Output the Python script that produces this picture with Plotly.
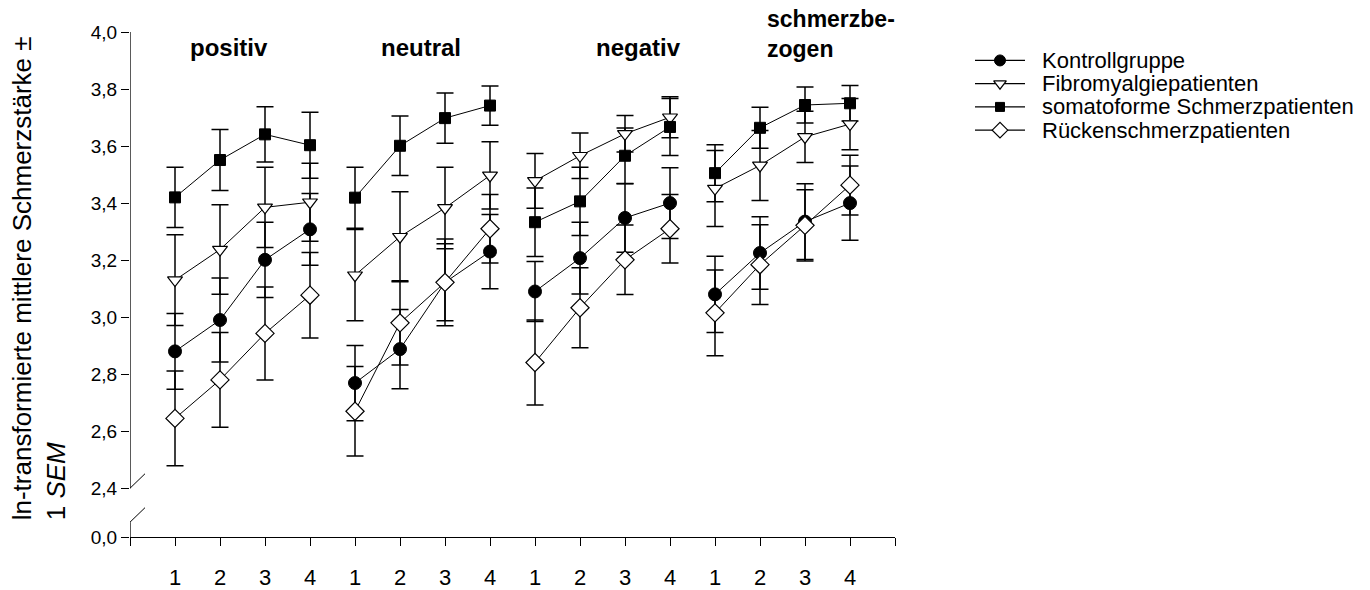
import plotly.graph_objects as go

# Conditions and measurement points (x positions 1..16, four per condition)
conditions = ["positiv", "neutral", "negativ", "schmerzbe-<br>zogen"]
points_per_condition = ["1", "2", "3", "4"]

# ln-transformed mean pain intensity per group, 16 values each (4 conditions x 4 points)
kontroll = [2.880, 2.990, 3.201, 3.308, 2.769, 2.888, 3.122, 3.230,
            3.090, 3.207, 3.348, 3.400, 3.080, 3.225, 3.335, 3.400]
kontroll_sem = [0.133, 0.147, 0.132, 0.126, 0.132, 0.139, 0.135, 0.130,
                0.105, 0.126, 0.120, 0.124, 0.134, 0.127, 0.133, 0.130]

fibro = [3.130, 3.237, 3.385, 3.403, 3.147, 3.282, 3.383, 3.497,
         3.478, 3.566, 3.643, 3.701, 3.451, 3.532, 3.632, 3.677]
fibro_sem = [0.159, 0.157, 0.141, 0.137, 0.160, 0.158, 0.143, 0.118,
             0.096, 0.080, 0.064, 0.072, 0.133, 0.123, 0.090, 0.090]

somato = [3.420, 3.551, 3.641, 3.603, 3.419, 3.601, 3.698, 3.742,
          3.333, 3.406, 3.566, 3.667, 3.505, 3.664, 3.744, 3.750]
somato_sem = [0.106, 0.107, 0.097, 0.116, 0.107, 0.104, 0.088, 0.069,
              0.120, 0.120, 0.097, 0.100, 0.100, 0.072, 0.063, 0.062]

ruecken = [2.645, 2.780, 2.943, 3.077, 2.670, 2.980, 3.122, 3.310,
           2.841, 3.033, 3.201, 3.310, 3.015, 3.184, 3.322, 3.463]
ruecken_sem = [0.166, 0.166, 0.163, 0.150, 0.157, 0.148, 0.152, 0.120,
               0.149, 0.140, 0.122, 0.120, 0.150, 0.140, 0.125, 0.105]

group_names = ["Kontrollgruppe", "Fibromyalgiepatienten",
               "somatoforme Schmerzpatienten", "Rückenschmerzpatienten"]

# y axis is broken between 0,0 and 2,4; the 0,0 tick sits at AXIS_FLOOR
AXIS_FLOOR = 2.229
y_tickvals = [AXIS_FLOOR, 2.4, 2.6, 2.8, 3.0, 3.2, 3.4, 3.6, 3.8, 4.0]
y_ticktext = ["0,0", "2,4", "2,6", "2,8", "3,0", "3,2", "3,4", "3,6", "3,8", "4,0"]

FONT = "Arial, Liberation Sans, sans-serif"

W, H = 1370, 590
M_L, M_R, M_T, M_B = 130, 0, 32, 43
PLOT_W = W - M_L - M_R
PLOT_H = H - M_T - M_B


def paper_x(px):
    return (px - M_L) / PLOT_W


def paper_y(py):
    return 1 - (py - M_T) / PLOT_H


styles = [
    dict(symbol="circle", size=13, color="black", line=dict(color="black", width=1)),
    dict(symbol="triangle-down", size=13, color="white", line=dict(color="black", width=1.2)),
    dict(symbol="square", size=11, color="black", line=dict(color="black", width=1)),
    dict(symbol="diamond", size=14, color="white", line=dict(color="black", width=1.2)),
]
values = [kontroll, fibro, somato, ruecken]
errors = [kontroll_sem, fibro_sem, somato_sem, ruecken_sem]

fig = go.Figure()

n_pts = len(points_per_condition)
x_all = list(range(1, len(conditions) * n_pts + 1))

# error bars first so that every marker sits above them
for vals, sem in zip(values, errors):
    fig.add_trace(go.Scatter(
        x=x_all, y=vals, mode="markers",
        marker=dict(size=1, color="rgba(0,0,0,0)"),
        error_y=dict(type="data", array=sem, visible=True, color="black",
                     thickness=1.5, width=8.5),
        showlegend=False, hoverinfo="skip",
    ))

# connected means, one line segment per condition
for name, vals, mk in zip(group_names, values, styles):
    for c in range(len(conditions)):
        xs = x_all[c * n_pts:(c + 1) * n_pts]
        ys = vals[c * n_pts:(c + 1) * n_pts]
        fig.add_trace(go.Scatter(
            x=xs, y=ys, mode="lines+markers", name=name,
            legendgroup=name, showlegend=False,
            line=dict(color="black", width=1),
            marker=mk,
        ))

# legend keys on a helper axis pair (one row per group)
for row, (name, mk) in enumerate(zip(group_names, styles)):
    fig.add_trace(go.Scatter(
        x=[0, 1], y=[row, row], xaxis="x2", yaxis="y2", mode="lines",
        line=dict(color="black", width=1.2), showlegend=False, hoverinfo="skip",
    ))
    fig.add_trace(go.Scatter(
        x=[0.5], y=[row], xaxis="x2", yaxis="y2", mode="markers",
        marker=dict(symbol=mk["symbol"], size=mk["size"] - 2,
                    color=mk["color"], line=mk["line"]),
        showlegend=False, hoverinfo="skip",
    ))
    fig.add_annotation(x=1.3, y=row, xref="x2", yref="y2", xanchor="left",
                       yanchor="middle", text=name, showarrow=False,
                       font=dict(family=FONT, size=22, color="black"))

# condition headings
headings = [
    (conditions[0], 2.2, 48, "center", 24),
    (conditions[1], 6.47, 48, "center", 24),
    (conditions[2], 11.31, 48, "center", 24),
    (conditions[3], 14.1, 34, "left", 23),
]
for label, hx, py, anchor, fs in headings:
    fig.add_annotation(x=hx, y=paper_y(py), xref="x", yref="paper",
                       xanchor=anchor, yanchor="middle", align="left",
                       text="<br>".join(f"<b>{p}</b>" for p in label.split("<br>")),
                       showarrow=False,
                       font=dict(family=FONT, size=fs, color="black"))

# axis title (two lines, rotated)
fig.add_annotation(
    x=paper_x(39), y=paper_y(532), xref="paper", yref="paper",
    xanchor="center", yanchor="bottom",
    text="ln-transformierte mittlere Schmerzstärke ±<br>1 <i>SEM</i>",
    textangle=-90, showarrow=False, align="left",
    font=dict(family=FONT, size=26, color="black"),
)

# y axis line with break marks
line_style = dict(color="black", width=1.3)
fig.add_shape(type="line", xref="x", yref="y", x0=0, x1=0, y0=2.4, y1=4.0, line=line_style)
fig.add_shape(type="line", xref="x", yref="y", x0=0, x1=0, y0=AXIS_FLOOR, y1=2.281, line=line_style)
for anchor_y in (2.4, 2.281):
    fig.add_shape(type="line", xref="x", yref="y", xsizemode="pixel", ysizemode="pixel",
                  xanchor=0, yanchor=anchor_y, x0=-15, x1=15, y0=-14.5, y1=14.5,
                  line=dict(color="black", width=1))

x_ticktext = [""] + points_per_condition * len(conditions) + [""]

MAIN_X_END = paper_x(895)
LEG_X0 = paper_x(975)

fig.update_layout(
    width=W, height=H,
    margin=dict(l=M_L, r=M_R, t=M_T, b=M_B),
    paper_bgcolor="white", plot_bgcolor="white",
    font=dict(family=FONT, color="black"),
    showlegend=False,
    xaxis=dict(domain=[0, MAIN_X_END], range=[0, 17], tickmode="array",
               tickvals=list(range(0, 18)), ticktext=x_ticktext,
               showline=True, linecolor="black", linewidth=1.3,
               ticks="outside", ticklen=8, tickcolor="black", tickwidth=1.3,
               ticklabelstandoff=12, showgrid=False, zeroline=False,
               tickfont=dict(family=FONT, size=22, color="black")),
    yaxis=dict(range=[AXIS_FLOOR, 4.0], tickmode="array", tickvals=y_tickvals,
               ticktext=y_ticktext, showline=False,
               ticks="outside", ticklen=8, tickcolor="black", tickwidth=1.3,
               showgrid=False, zeroline=False,
               tickfont=dict(family=FONT, size=19, color="black")),
    # helper axes for the legend keys: 1 unit = 50 px across, 1 row = 23.7 px down
    xaxis2=dict(domain=[LEG_X0, 1], range=[0, (W - 975) / 50], visible=False,
                fixedrange=True),
    yaxis2=dict(domain=[0, 1], anchor="x2",
                range=[(547 - 61) / 23.7, -(61 - 32) / 23.7], visible=False,
                fixedrange=True),
)

fig.write_html("out.html")
